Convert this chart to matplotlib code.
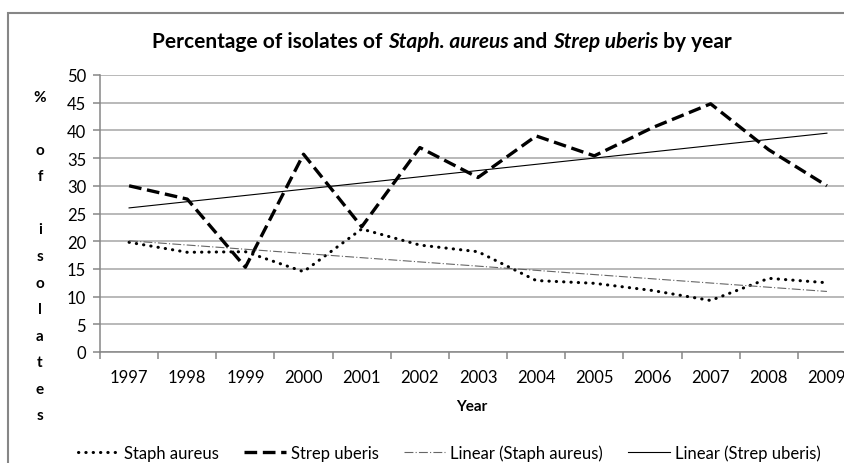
import numpy as np
import matplotlib.pyplot as plt
from matplotlib.patches import Rectangle

years = ['1997', '1998', '1999', '2000', '2001', '2002', '2003',
         '2004', '2005', '2006', '2007', '2008', '2009']
staph = [19.8, 18.0, 18.1, 14.5, 22.2, 19.3, 18.1, 12.9, 12.4, 11.1, 9.3, 13.3, 12.5]
strep = [30.0, 27.6, 15.3, 35.7, 22.6, 36.9, 31.5, 39.0, 35.4, 40.5, 44.8, 36.5, 30.0]

plt.rcParams['font.family'] = ['Lato', 'DejaVu Sans']
W, H = 844, 464
fig = plt.figure(figsize=(W / 100, H / 100), dpi=100)

# chart border (right/bottom edges fall outside the crop)
fig.patches.append(Rectangle((8 / W, -0.1), 1.1, 1 - 14 / H + 0.1, transform=fig.transFigure,
                             fill=False, edgecolor='#868686', lw=1.5))

ax = fig.add_axes([100 / W, 1 - 353 / H, 756 / W, (353 - 76) / H])
x = np.arange(len(years))

ax.plot(x, staph, color='black', lw=2.2, linestyle=(0, (0.1, 2.3)),
        dash_capstyle='round', label='Staph aureus')
ax.plot(x, strep, color='black', lw=2.4, linestyle=(0, (3.8, 1.7)),
        dash_capstyle='butt', label='Strep uberis')

# linear trend lines
p1 = np.polyfit(x, staph, 1)
p2 = np.polyfit(x, strep, 1)
ax.plot(x, np.polyval(p1, x), color='#666666', lw=0.8, linestyle=(0, (8, 2, 1, 2)),
        label='Linear (Staph aureus)')
ax.plot(x, np.polyval(p2, x), color='black', lw=0.8, label='Linear (Strep uberis)')

ax.set_xlim(-0.5, len(years) - 0.5)
ax.set_ylim(0, 50)
ax.set_yticks(range(0, 51, 5))
ax.grid(axis='y', color='#a6a6a6', lw=1.1)
ax.set_axisbelow(True)
for s in ['top', 'right']:
    ax.spines[s].set_visible(False)
for s in ['left', 'bottom']:
    ax.spines[s].set_color('#868686')
    ax.spines[s].set_linewidth(1.1)

ax.set_xticks(x)
ax.set_xticklabels(years)
ax.set_xticks(np.arange(-0.5, len(years), 1), minor=True)
ax.tick_params(axis='x', which='major', length=0, pad=12.5, labelsize=12)
ax.tick_params(axis='x', which='minor', length=5, color='#868686', width=1.1)
ax.tick_params(axis='y', length=5, color='#868686', width=1.1, labelsize=12, pad=5)

fig.text(472 / W, 1 - 407 / H, 'Year', ha='center', va='center', fontweight='bold', fontsize=11)

fig.text(40 / W, 1 - 257 / H, '%\n\no\nf\n\ni\ns\no\nl\na\nt\ne\ns', ha='center', va='center',
         fontweight='bold', fontsize=11, linespacing=2.14)

# title with italic species names
pieces = [('Percentage of isolates of ', 'normal'), ('Staph. aureus', 'italic'),
          (' and ', 'normal'), ('Strep uberis', 'italic'), (' by year', 'normal')]
renderer = fig.canvas.get_renderer()
texts = []
for s, st in pieces:
    t = fig.text(0, 1 - 42 / H, s, fontsize=15, fontweight='bold', style=st, va='center')
    texts.append(t)
widths = [t.get_window_extent(renderer).width for t in texts]
xpos = 442 - sum(widths) / 2
for t, w in zip(texts, widths):
    t.set_x(xpos / W)
    xpos += w

ax.legend(loc='center', bbox_to_anchor=(449 / W, 1 - 454 / H), bbox_transform=fig.transFigure,
          ncol=4, frameon=False, fontsize=12, handlelength=2.5, handletextpad=0.3,
          columnspacing=1.5, borderpad=0, borderaxespad=0)

fig.savefig('out.png', dpi=100)
